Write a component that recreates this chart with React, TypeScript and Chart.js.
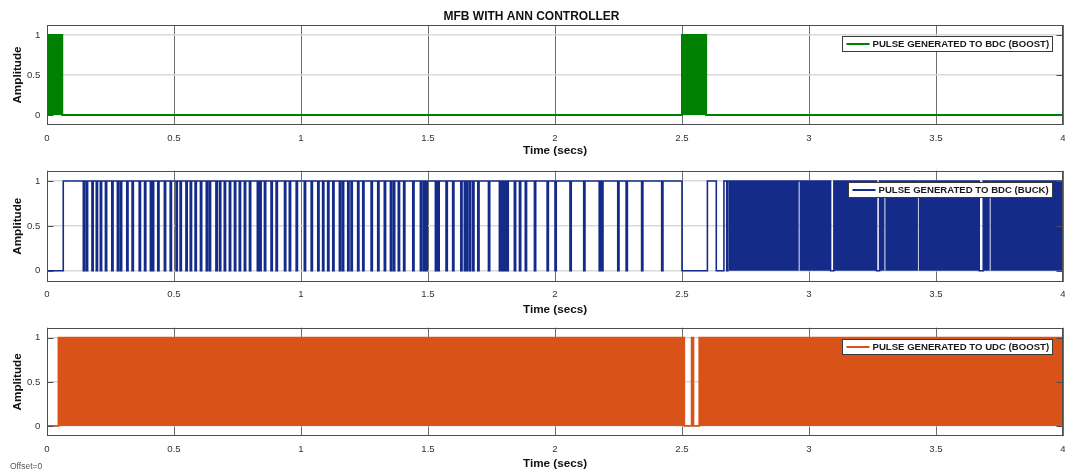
import React, { useEffect, useRef } from 'react';
import { Chart, registerables } from 'chart.js';

Chart.register(...registerables);

const FONT = "'Liberation Sans', Arial, Helvetica, sans-serif";

// ---------- text ----------
const chartTitle = 'MFB WITH ANN CONTROLLER';
const xAxisTitle = 'Time (secs)';
const yAxisTitle = 'Amplitude';
const offsetNote = 'Offset=0';

// ---------- ticks ----------
const xTicks = [0, 0.5, 1, 1.5, 2, 2.5, 3, 3.5, 4];
const yTicks = [0, 0.5, 1];

// ---------- panel 1: BDC boost pulses ----------
const bdcBoostLabel = 'PULSE GENERATED TO BDC (BOOST)';
const bdcBoostTimes = [0, 0.06, 2.5, 2.595, 4];
const bdcBoostLevels = [1, 0, 1, 0, 0];
const bdcBoostBursts: [number, number][] = [
  [0, 0.06],
  [2.5, 2.595],
];

// ---------- panel 2: BDC buck pulses ----------
const bdcBuckLabel = 'PULSE GENERATED TO BDC (BUCK)';
const bdcBuckHeadTimes = [0, 0.064];
const bdcBuckHeadLevels = [0, 1];
// short low pulses (signal drops to 0) between 0.14 s and 2.45 s
const bdcBuckDrops: [number, number][] = [
  [0.143, 0.148], [0.155, 0.16], [0.177, 0.182], [0.194, 0.199], [0.21, 0.215],
  [0.23, 0.235], [0.255, 0.26], [0.277, 0.282], [0.289, 0.294], [0.314, 0.319],
  [0.335, 0.34], [0.363, 0.368], [0.384, 0.389], [0.407, 0.412], [0.415, 0.42],
  [0.436, 0.441], [0.462, 0.467], [0.485, 0.49], [0.508, 0.513], [0.524, 0.529],
  [0.547, 0.552], [0.564, 0.569], [0.583, 0.588], [0.604, 0.609], [0.627, 0.632],
  [0.639, 0.644], [0.665, 0.67], [0.679, 0.684], [0.698, 0.703], [0.718, 0.723],
  [0.738, 0.743], [0.757, 0.762], [0.777, 0.782], [0.797, 0.802], [0.828, 0.833],
  [0.838, 0.843], [0.856, 0.861], [0.882, 0.887], [0.902, 0.907], [0.935, 0.94],
  [0.954, 0.959], [0.981, 0.986], [1.013, 1.018], [1.04, 1.045], [1.066, 1.071],
  [1.085, 1.09], [1.105, 1.11], [1.125, 1.13], [1.151, 1.156], [1.163, 1.168],
  [1.184, 1.189], [1.197, 1.202], [1.223, 1.228], [1.243, 1.248],
  [1.276, 1.281], [1.302, 1.307], [1.328, 1.333], [1.352, 1.357], [1.364, 1.369],
  [1.383, 1.388], [1.404, 1.409], [1.44, 1.445], [1.47, 1.475], [1.482, 1.487],
  [1.492, 1.497], [1.529, 1.534], [1.539, 1.544], [1.571, 1.576], [1.597, 1.602],
  [1.629, 1.634], [1.643, 1.648], [1.651, 1.656], [1.663, 1.668], [1.676, 1.681],
  [1.696, 1.701], [1.738, 1.743], [1.781, 1.786], [1.791, 1.796], [1.801, 1.806],
  [1.811, 1.816], [1.84, 1.845], [1.86, 1.865],
  [1.883, 1.888], [1.919, 1.924], [1.969, 1.974], [2.0, 2.005], [2.059, 2.064],
  [2.113, 2.118], [2.174, 2.179], [2.184, 2.189], [2.247, 2.252], [2.28, 2.285],
  [2.341, 2.346], [2.42, 2.425],
];
const bdcBuckTailTimes = [2.5, 2.6, 2.635, 2.665, 2.676, 2.681, 3.085, 3.098, 3.266, 3.278, 3.67, 3.686, 4];
const bdcBuckTailLevels = [0, 1, 0, 1, 0, 1, 0, 1, 0, 1, 0, 1, 1];
const bdcBuckBursts: [number, number][] = [
  [2.685, 2.96], [2.962, 3.085], [3.098, 3.266], [3.278, 3.298],
  [3.3, 3.429], [3.431, 3.67], [3.686, 3.712], [3.714, 4],
];

// ---------- panel 3: UDC boost pulses ----------
const udcBoostLabel = 'PULSE GENERATED TO UDC (BOOST)';
const udcBoostTimes = [0, 0.045, 2.509, 2.538, 2.545, 2.568, 4];
const udcBoostLevels = [0, 1, 0, 1, 0, 1, 1];
const udcBoostBursts: [number, number][] = [
  [0.045, 2.509],
  [2.568, 4],
];

// ---------- helpers ----------
type Pt = { x: number; y: number };
const stepPoints = (times: number[], levels: number[]): Pt[] =>
  times.map((t, i) => ({ x: t, y: levels[i] }));
const dropPoints = (drops: [number, number][]): Pt[] =>
  drops.flatMap(([s, e]) => [{ x: s, y: 0 }, { x: e, y: 1 }]);

interface PanelCfg {
  top: number;
  height: number;
  padTop: number;
  axisHeight: number;
  xTitlePadBottom: number;
  yMin: number;
  yMax: number;
  title?: string;
  note?: string;
  label: string;
  color: string;
  lineWidth: number;
  signal: Pt[];
  bursts: [number, number][];
}

const panels: PanelCfg[] = [
  {
    top: 0, height: 160, padTop: 0, axisHeight: 35, xTitlePadBottom: 2,
    yMin: -0.125, yMax: 1.125, title: chartTitle,
    label: bdcBoostLabel, color: '#008000', lineWidth: 2,
    signal: stepPoints(bdcBoostTimes, bdcBoostLevels),
    bursts: bdcBoostBursts,
  },
  {
    top: 160, height: 160, padTop: 10.7, axisHeight: 38.3, xTitlePadBottom: 3,
    yMin: -0.122, yMax: 1.115,
    label: bdcBuckLabel, color: '#152B8A', lineWidth: 1.6,
    signal: [
      ...stepPoints(bdcBuckHeadTimes, bdcBuckHeadLevels),
      ...dropPoints(bdcBuckDrops),
      ...stepPoints(bdcBuckTailTimes, bdcBuckTailLevels),
    ],
    bursts: bdcBuckBursts,
  },
  {
    top: 320, height: 156, padTop: 7.7, axisHeight: 40, xTitlePadBottom: 5,
    yMin: -0.114, yMax: 1.114, note: offsetNote,
    label: udcBoostLabel, color: '#D95319', lineWidth: 1.8,
    signal: stepPoints(udcBoostTimes, udcBoostLevels),
    bursts: udcBoostBursts,
  },
];

const frameLegendPlugin = {
  id: 'frameLegend',
  afterDatasetsDraw(chart: any, _args: any, opts: any) {
    const { ctx, chartArea } = chart;
    const yScale = chart.scales.y;
    ctx.save();
    // axes box
    const l = Math.round(chartArea.left) + 0.5;
    const t = Math.round(chartArea.top) + 0.5;
    const r = Math.round(chartArea.right) - 0.5;
    const b = Math.round(chartArea.bottom) - 0.5;
    ctx.strokeStyle = '#4d4d4d';
    ctx.lineWidth = 1;
    ctx.strokeRect(l, t, r - l, b - t);
    // inner tick marks on left / right
    ctx.beginPath();
    for (const v of yTicks) {
      const py = Math.round(yScale.getPixelForValue(v)) + 0.5;
      ctx.moveTo(l, py);
      ctx.lineTo(l + 6, py);
      ctx.moveTo(r, py);
      ctx.lineTo(r - 6, py);
    }
    ctx.stroke();

    // legend box
    ctx.font = `bold 9.6px ${FONT}`;
    const tw = ctx.measureText(opts.text).width;
    const right = Math.round(chartArea.right - 11) + 0.5;
    const top = Math.round(chartArea.top + 11) + 0.5;
    const h = 15;
    const left = Math.round(right - (4 + 23 + 3 + tw + 4)) + 0.5;
    ctx.fillStyle = '#ffffff';
    ctx.fillRect(left, top, right - left, h);
    ctx.strokeStyle = '#3a3a3a';
    ctx.strokeRect(left, top, right - left, h);
    ctx.beginPath();
    ctx.strokeStyle = opts.color;
    ctx.lineWidth = 2;
    ctx.moveTo(left + 4, top + h / 2);
    ctx.lineTo(left + 27, top + h / 2);
    ctx.stroke();
    ctx.fillStyle = '#1a1a1a';
    ctx.textBaseline = 'middle';
    ctx.textAlign = 'left';
    ctx.fillText(opts.text, left + 30, top + h / 2 + 0.5);

    if (opts.note) {
      ctx.font = `8.5px ${FONT}`;
      ctx.fillStyle = '#555555';
      ctx.fillText(opts.note, 10, chart.height - 9.5);
    }
    ctx.restore();
  },
};

function buildConfig(p: PanelCfg): any {
  const datasets: any[] = [
    {
      label: p.label,
      data: p.signal,
      borderColor: p.color,
      borderWidth: p.lineWidth,
      stepped: true,
      pointRadius: 0,
      fill: false,
      order: 0,
    },
    ...p.bursts.map(([a, b]) => ({
      label: p.label + ' burst',
      data: [{ x: a, y: 1 }, { x: b, y: 1 }],
      borderColor: 'rgba(0,0,0,0)',
      borderWidth: 0,
      backgroundColor: p.color,
      fill: 'origin',
      pointRadius: 0,
      order: 1,
    })),
  ];
  return {
    type: 'line',
    data: { datasets },
    plugins: [frameLegendPlugin],
    options: {
      responsive: false,
      animation: false,
      events: [],
      layout: { padding: { top: p.padTop, left: 0, right: 2, bottom: 0 } },
      plugins: {
        legend: { display: false },
        tooltip: { enabled: false },
        title: p.title
          ? {
              display: true,
              text: p.title,
              color: '#111',
              font: { family: FONT, size: 12, weight: 'bold', lineHeight: 1.2 },
              padding: { top: 9, bottom: 1.6 },
            }
          : { display: false },
        frameLegend: { text: p.label, color: p.color, note: p.note },
      },
      scales: {
        x: {
          type: 'linear',
          min: 0,
          max: 4,
          afterBuildTicks: (s: any) => {
            s.ticks = xTicks.map((v) => ({ value: v }));
          },
          afterFit: (s: any) => {
            s.height = p.axisHeight;
            s.paddingLeft = 0;
            s.paddingRight = 0;
          },
          ticks: {
            autoSkip: false,
            maxRotation: 0,
            padding: 7.3,
            color: '#333',
            font: { family: FONT, size: 9.6 },
            callback: (v: any) => String(v),
          },
          grid: { color: '#6e6e6e', lineWidth: 1, drawTicks: false },
          border: { display: false },
          title: {
            display: true,
            text: xAxisTitle,
            color: '#111',
            font: { family: FONT, size: 11.7, weight: 'bold', lineHeight: 1.2 },
            padding: { top: 0, bottom: p.xTitlePadBottom },
          },
        },
        y: {
          type: 'linear',
          min: p.yMin,
          max: p.yMax,
          afterBuildTicks: (s: any) => {
            s.ticks = yTicks.map((v) => ({ value: v }));
          },
          afterFit: (s: any) => {
            s.width = 47;
            s.paddingTop = 0;
            s.paddingBottom = 0;
          },
          ticks: {
            padding: 6.7,
            color: '#333',
            font: { family: FONT, size: 9.6 },
            callback: (v: any) => String(v),
          },
          grid: { color: '#d9d9d9', lineWidth: 1.5, drawTicks: false },
          border: { display: false },
          title: {
            display: true,
            text: yAxisTitle,
            color: '#111',
            font: { family: FONT, size: 11.7, weight: 'bold', lineHeight: 1.2 },
            padding: { top: 10.3, bottom: 0 },
          },
        },
      },
    },
  };
}

function Panel({ cfg }: { cfg: PanelCfg }) {
  const ref = useRef<HTMLCanvasElement>(null);
  useEffect(() => {
    if (!ref.current) return;
    const chart = new Chart(ref.current, buildConfig(cfg));
    return () => chart.destroy();
  }, [cfg]);
  return (
    <canvas
      ref={ref}
      width={1065}
      height={cfg.height}
      style={{ position: 'absolute', left: 0, top: cfg.top, width: 1065, height: cfg.height }}
    />
  );
}

export default function App() {
  return (
    <div
      style={{
        position: 'fixed',
        left: 0,
        top: 0,
        width: 1065,
        height: 476,
        background: '#ffffff',
        overflow: 'hidden',
      }}
    >
      {panels.map((p, i) => (
        <Panel key={i} cfg={p} />
      ))}
    </div>
  );
}
